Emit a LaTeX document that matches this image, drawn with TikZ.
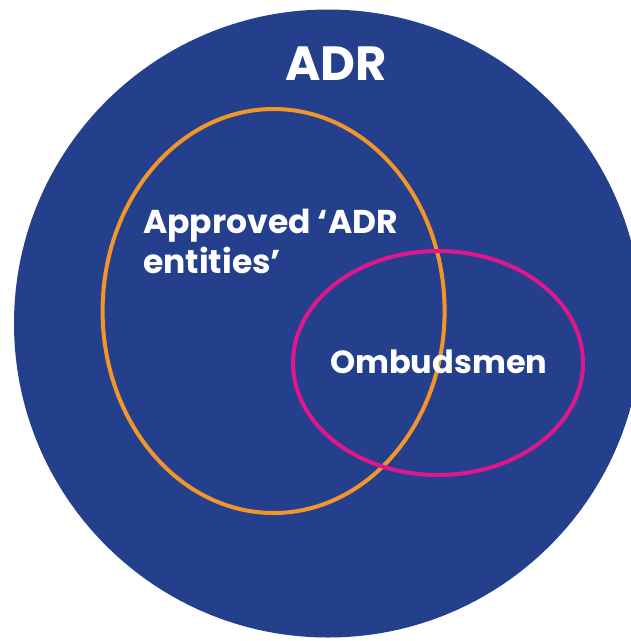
\documentclass[tikz,border=0pt]{standalone}
\usepackage{fontspec}
\setmainfont{Poppins}
\definecolor{adrblue}{RGB}{36,64,141}
\definecolor{adrorange}{RGB}{242,150,44}
\definecolor{adrpink}{RGB}{226,22,140}
\begin{document}
\begin{tikzpicture}[x=1pt,y=-1pt,
  lbl/.style={text=white,font=\bfseries\fontsize{#1}{#1}\selectfont,inner sep=0pt},
  ring/.style={line width=4pt,draw=#1}]
\useasboundingbox (0,0) rectangle (631,641);
\fill[white] (0,0) rectangle (631,641);
\begin{scope}
\clip (0,0) rectangle (631,641);
\fill[adrblue] (328,323.5) circle[radius=314];
\end{scope}
\draw[ring=adrorange] (273.6,311) ellipse[x radius=171,y radius=202];
\draw[ring=adrpink] (438,363) ellipse[x radius=145,y radius=112];
\node[lbl=48,anchor=base] (adr) at (336,80) {ADR};
\node[lbl=33,anchor=base west] (appr) at (143,233) {Approved ‘ADR};
\node[lbl=33,anchor=base west] (ent) at (143,273) {entities’};
\node[lbl=32,anchor=base west] (omb) at (330,373.5) {Ombudsmen};
\end{tikzpicture}
\end{document}
